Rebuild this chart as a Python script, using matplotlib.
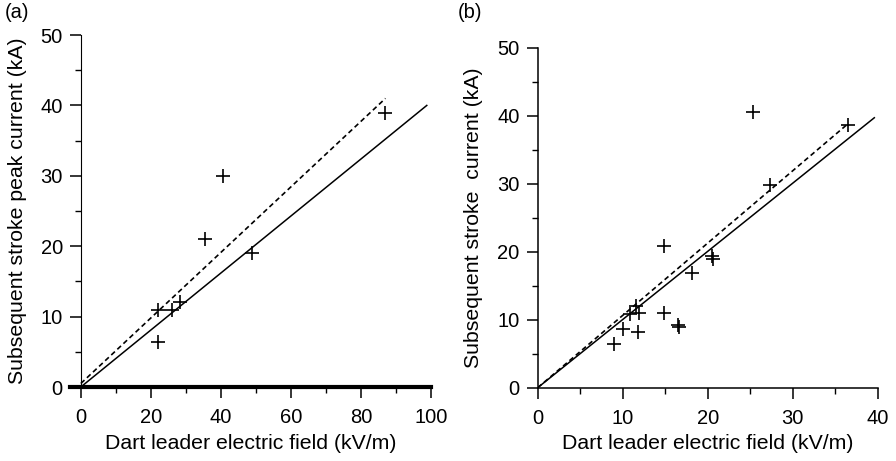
import matplotlib
matplotlib.use("Agg")
import matplotlib.pyplot as plt
from matplotlib.ticker import MultipleLocator

plt.rcParams['font.family'] = ['Liberation Sans', 'DejaVu Sans']

# panel (a): dart leader field vs subsequent stroke peak current
field_a = [21.9, 21.9, 25.9, 28.3, 35.4, 40.7, 48.9, 86.9]
current_a = [6.4, 11.0, 11.0, 12.1, 21.0, 30.0, 19.0, 38.9]
solid_a_x = [0, 98.8]
solid_a_y = [0, 40.0]
dashed_a_x = [0, 87.0]
dashed_a_y = [0.5, 41.0]

# panel (b)
field_b = [9.0, 10.0, 11.8, 10.9, 11.6, 11.95, 14.8, 14.8, 16.6, 16.5,
           18.1, 20.6, 20.5, 25.3, 27.3, 36.5]
current_b = [6.5, 8.7, 8.2, 10.9, 12.0, 11.0, 11.0, 20.8, 8.9, 9.2,
             16.9, 18.9, 19.3, 40.6, 29.8, 38.7]
solid_b_x = [0, 39.6]
solid_b_y = [0, 39.7]
dashed_b_x = [0, 36.3]
dashed_b_y = [0, 38.6]

TICK_FS = 14.5
LABEL_FS = 15.3

fig = plt.figure(figsize=(8.96, 4.61), dpi=100)
ax_a = fig.add_axes([0.0781, 0.1605, 0.4029, 0.7635])
ax_b = fig.add_axes([0.6001, 0.159, 0.3795, 0.7375])


def style(ax):
    for s in ['top', 'right']:
        ax.spines[s].set_visible(False)
    ax.tick_params(which='major', length=8, width=1.1, labelsize=TICK_FS,
                   direction='out')
    ax.tick_params(axis='x', which='major', pad=7)
    ax.tick_params(axis='y', which='major', pad=5)
    ax.tick_params(which='minor', length=4, width=1.0, direction='out')
    ax.yaxis.set_major_locator(MultipleLocator(10))
    ax.yaxis.set_minor_locator(MultipleLocator(5))
    ax.set_xlabel('Dart leader electric field (kV/m)', fontsize=LABEL_FS, labelpad=5)


# (a)
ax_a.plot(solid_a_x, solid_a_y, color='black', lw=1.1)
ax_a.plot(dashed_a_x, dashed_a_y, color='black', lw=1.2, dashes=(3, 2))
ax_a.plot(field_a, current_a, '+', color='black', ms=10, mew=1.2)
ax_a.set_xlim(-3.1, 100)
ax_a.set_ylim(0, 50)
ax_a.spines['left'].set_position(('data', 0))
ax_a.spines['bottom'].set_linewidth(3)
style(ax_a)
ax_a.set_xticks([0, 20, 40, 60, 80, 100])
ax_a.xaxis.set_minor_locator(MultipleLocator(10))
ax_a.set_ylabel('Subsequent stroke peak current (kA)', fontsize=LABEL_FS)
ax_a.yaxis.set_label_coords(-0.119, 0.5)
fig.text(0.005, 0.993, '(a)', fontsize=TICK_FS, va='top', ha='left')

# (b)
ax_b.plot(solid_b_x, solid_b_y, color='black', lw=1.1)
ax_b.plot(dashed_b_x, dashed_b_y, color='black', lw=1.2, dashes=(3, 2))
ax_b.plot(field_b, current_b, '+', color='black', ms=10, mew=1.2)
ax_b.set_xlim(0, 40)
ax_b.set_ylim(0, 50)
ax_b.spines['left'].set_linewidth(1.1)
ax_b.spines['bottom'].set_linewidth(1.1)
style(ax_b)
ax_b.xaxis.set_major_locator(MultipleLocator(10))
ax_b.xaxis.set_minor_locator(MultipleLocator(5))
ax_b.set_ylabel('Subsequent stroke  current (kA)', fontsize=LABEL_FS)
ax_b.yaxis.set_label_coords(-0.161, 0.5)
fig.text(0.511, 0.993, '(b)', fontsize=TICK_FS, va='top', ha='left')

fig.savefig('out.png', dpi=100)
